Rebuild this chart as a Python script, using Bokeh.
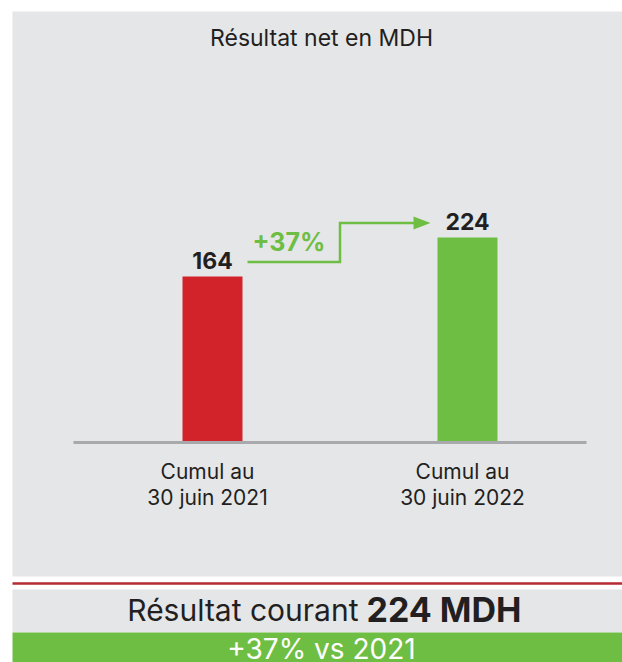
from bokeh.plotting import figure
from bokeh.models import Range1d
from bokeh.core.properties import value
from bokeh.embed import file_html
from bokeh.resources import INLINE

# ---------------- data ----------------
title_text = "Résultat net en MDH"
categories = ["Cumul au\n30 juin 2021", "Cumul au\n30 juin 2022"]
values = [164, 224]
bar_colors = ["#d2232a", "#6fbe44"]
unit = "MDH"
summary_label = "Résultat courant"
compare_year = "2021"

# ---------------- layout helpers ----------------
W, H = 622, 662
KX = 255.0       # px per category step
KY = 0.65        # px per MDH
BASE = -91.4     # value at the axis line (chart axis is truncated)
AXIS_PX = 442.0
X0 = -212.0 / KX
Y_TOP = BASE + AXIS_PX / KY
SHIFT = 0.37     # renderer places alphabetic baseline this many em below y


def xv(px):
    return X0 + px / KX


def yv(py):
    return Y_TOP - py / KY


def base_px(b, fs):
    """data y that puts the text baseline at pixel row b"""
    return yv(b - SHIFT * fs)


FONT = value("Inter")
DARK = "#231f20"
GREEN = "#6fbe44"
PANEL = "#e5e6e8"

p = figure(width=W, height=H,
           x_range=Range1d(X0, X0 + W / KX),
           y_range=Range1d(yv(H), Y_TOP),
           output_backend="svg", toolbar_location=None, tools="",
           min_border=0, x_axis_location=None, y_axis_location=None,
           background_fill_color="white", border_fill_color="white",
           outline_line_color=None)
p.grid.visible = False

# panels
p.quad(left=[xv(12)] * 3, right=[xv(W)] * 3,
       top=[yv(11), yv(589), yv(632)], bottom=[yv(576), yv(632), yv(H)],
       fill_color=[PANEL, PANEL, GREEN], line_color=None)
p.quad(left=[xv(12)], right=[xv(W)], top=[yv(581.8)], bottom=[yv(584.2)],
       fill_color="#b52a32", line_color=None)

# title
fs = 23
p.text(x=[xv(321)], y=[base_px(46, fs)], text=[title_text], text_font=FONT,
       text_font_size=f"{fs}px", text_color=DARK, text_align="center",
       text_baseline="alphabetic")

# bars
idx = list(range(len(values)))
p.vbar(x=idx, top=values, bottom=BASE, width=60 / KX, fill_color=bar_colors,
       line_color=None)

# axis line
p.segment(x0=[xv(73)], x1=[xv(586)], y0=[BASE], y1=[BASE], line_width=3,
          line_color="#a7a9ac")

# value labels
fs = 23
p.text(x=idx, y=[v + (7.7 + SHIFT * fs) / KY for v in values],
       text=[str(v) for v in values],
       text_font=FONT, text_font_size=f"{fs}px", text_font_style="bold",
       text_color=DARK, text_align="center", text_baseline="alphabetic")

# category labels
fs = 21
line1 = [c.split("\n")[0] for c in categories]
line2 = [c.split("\n")[1] for c in categories]
cx = [i - 5 / KX for i in idx]
p.text(x=cx, y=[BASE - (37 - SHIFT * fs) / KY] * 2, text=line1, text_font=FONT,
       text_font_size=f"{fs}px", text_color=DARK, text_align="center",
       text_baseline="alphabetic")
p.text(x=cx, y=[BASE - (63 - SHIFT * fs) / KY] * 2, text=line2, text_font=FONT,
       text_font_size=f"{fs}px", text_color=DARK, text_align="center",
       text_baseline="alphabetic")

# growth arrow
half = 30 / KX
xa = idx[0] + half + 5 / KX
xm = (idx[0] + idx[1]) / 2
tip = idx[1] - half - 7 / KX
ya = values[0] + 14.5 / KY
yb = values[1] + 14.5 / KY
p.line(x=[xa, xm, xm, tip - 15 / KX], y=[ya, ya, yb, yb], line_width=2.5,
       line_color=GREEN, line_join="miter")
p.patch(x=[tip, tip - 17 / KX, tip - 17 / KX], y=[yb, yb + 6.5 / KY, yb - 6.5 / KY],
        fill_color=GREEN, line_color=None)
pct = round((values[1] - values[0]) / values[0] * 100)
fs = 25
p.text(x=[xa + 5 / KX], y=[ya + (10.5 + SHIFT * fs) / KY], text=[f"+{pct}%"],
       text_font=FONT, text_font_size=f"{fs}px", text_font_style="bold",
       text_color=GREEN, text_align="left", text_baseline="alphabetic")

# bottom summary
fs = 30
p.text(x=[xv(358)], y=[base_px(621, fs)], text=[summary_label], text_font=FONT,
       text_font_size=f"{fs}px", text_color=DARK, text_align="right",
       text_baseline="alphabetic")
fs = 34
p.text(x=[xv(366)], y=[base_px(622, fs)], text=[f"{values[-1]} {unit}"],
       text_font=FONT, text_font_size=f"{fs}px", text_font_style="bold",
       text_color=DARK, text_align="left", text_baseline="alphabetic")
fs = 28
p.text(x=[xv(321)], y=[base_px(659, fs)], text=[f"+{pct}% vs {compare_year}"],
       text_font=FONT, text_font_size=f"{fs}px", text_color="white",
       text_align="center", text_baseline="alphabetic")

open("out.html", "w").write(file_html(p, INLINE))
